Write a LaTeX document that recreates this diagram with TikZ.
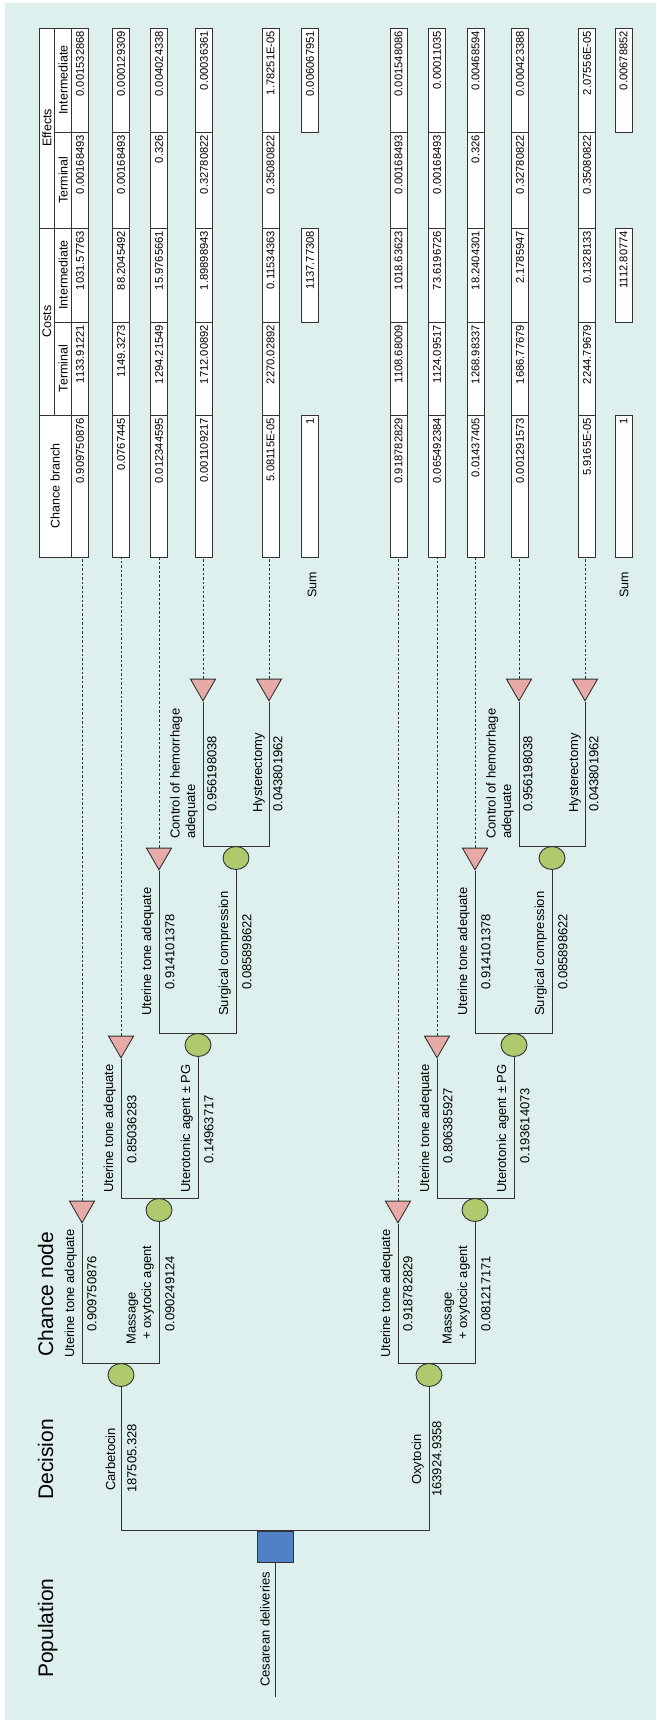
\documentclass[tikz,border=0pt]{standalone}
\usepackage{fontspec}
\setmainfont{Liberation Sans}
\usetikzlibrary{positioning,shapes.geometric}

\definecolor{panel}{HTML}{DDF0ED}
\definecolor{chancefill}{HTML}{AECA6C}
\definecolor{endfill}{HTML}{E8AAA6}
\definecolor{decfill}{HTML}{4F81C4}
\definecolor{ink}{HTML}{333333}

\tikzset{
  branch/.style={ink, line width=1pt},
  link/.style={ink, line width=0.8pt, dash pattern=on 2.5pt off 2pt},
  chance/.style={ellipse, draw=ink, line width=0.9pt, fill=chancefill,
    minimum width=26pt, minimum height=23pt, inner sep=0pt},
  terminal/.style={regular polygon, regular polygon sides=3,
    shape border rotate=180, draw=ink, line width=0.9pt, fill=endfill,
    minimum size=29pt, inner sep=0pt},
  decision/.style={rectangle, draw=ink, line width=0.9pt, fill=decfill,
    minimum width=36pt, minimum height=31pt, inner sep=0pt},
  optname/.style={rotate=90, anchor=south west, inner sep=0pt, align=left,
    font=\fontsize{13}{15.5}\selectfont},
  optprob/.style={rotate=90, anchor=north west, inner sep=0pt,
    font=\fontsize{13}{15.5}\selectfont},
  heading/.style={rotate=90, anchor=base west, inner sep=0pt,
    font=\fontsize{21}{25}\selectfont},
  sumlabel/.style={rotate=90, anchor=west, inner sep=0pt,
    font=\fontsize{12.5}{15}\selectfont},
  cell/.style={rotate=90, draw=ink, line width=0.9pt, fill=white,
    minimum height=17pt, inner xsep=3pt, inner ysep=0pt, align=right,
    font=\fontsize{11.2}{13}\selectfont},
  colA/.style={cell, minimum width=142pt, text width=136pt},
  colB/.style={cell, minimum width=93pt, text width=87pt},
  colC/.style={cell, minimum width=94pt, text width=88pt},
  colD/.style={cell, minimum width=96pt, text width=90pt},
  colE/.style={cell, minimum width=104pt, text width=98pt},
  head/.style={rotate=90, draw=ink, line width=0.9pt, fill=white,
    inner sep=0pt, font=\fontsize{12.5}{15}\selectfont}
}

\begin{document}
\begin{tikzpicture}[x=1pt, y=-1pt]
  \useasboundingbox (0,0) rectangle (656,1720);
  \fill[panel] (5,3) rectangle (656,1720);

  % column titles
  \node[heading] (hpop) at (53,1678) {Population};
  \node[heading] (hdec) at (53,1500) {Decision};
  \node[heading] (hcha) at (53,1357) {Chance node};

  % table header
  \node[head, minimum width=142pt, minimum height=32.5pt] (hbr) at (55.25,486) {Chance branch};
  \node[head, minimum width=187pt, minimum height=15.75pt] (hco) at (46.9,321.5) {Costs};
  \node[head, minimum width=200pt, minimum height=15.75pt] (hef) at (46.9,128) {Effects};
  \node[head, minimum width=93pt, minimum height=16.75pt] (hcot) at (63.1,368.5) {Terminal};
  \node[head, minimum width=94pt, minimum height=16.75pt] (hcoi) at (63.1,275) {Intermediate};
  \node[head, minimum width=96pt, minimum height=16.75pt] (heft) at (63.1,180) {Terminal};
  \node[head, minimum width=104pt, minimum height=16.75pt] (hefi) at (63.1,80) {Intermediate};

  % table rows
  \foreach \tr/\rw/\rx/\va/\vb/\vc/\vd/\ve in {
      a/1/80/0.909750876/1133.91221/1031.57763/0.00168493/0.001532868,
      a/2/121/0.0767445/1149.3273/88.2045492/0.00168493/0.000129309,
      a/3/159/0.012344595/1294.21549/15.9765661/0.326/0.004024338,
      a/4/204/0.001109217/1712.00892/1.89898943/0.32780822/0.00036361,
      a/5/270.5/5.08115E-05/2270.02892/0.11534363/0.35080822/1.78251E-05,
      b/1/398.5/0.918782829/1108.68009/1018.63623/0.00168493/0.001548086,
      b/2/437/0.065492384/1124.09517/73.6196726/0.00168493/0.00011035,
      b/3/475.5/0.01437405/1268.98337/18.2404301/0.326/0.00468594,
      b/4/520/0.001291573/1686.77679/2.1785947/0.32780822/0.000423388,
      b/5/587/5.9165E-05/2244.79679/0.1328133/0.35080822/2.07556E-05}{
    \node[colA] (row\tr\rw) at (\rx,486) {\va};
    \node[colB] (rowb\tr\rw) at (\rx,368.5) {\vb};
    \node[colC] (rowc\tr\rw) at (\rx,275) {\vc};
    \node[colD] (rowd\tr\rw) at (\rx,180) {\vd};
    \node[colE] (rowe\tr\rw) at (\rx,80) {\ve};
  }

  % sums
  \node[colA] (suma) at (310,486) {1};
  \node[colC] (sumca) at (310,275) {1137.77308};
  \node[colE] (sumea) at (310,80) {0.006067951};
  \node[sumlabel] (lsuma) at (312,598) {Sum};
  \node[colA] (sumb) at (623.5,486) {1};
  \node[colC] (sumcb) at (623.5,275) {1112.80774};
  \node[colE] (sumeb) at (623.5,80) {0.00678852};
  \node[sumlabel] (lsumb) at (624,598) {Sum};

  % decision
  \node[decision] (dec) at (275,1546.5) {};
  \coordinate (pop) at (275,1697);
  \draw[branch] (pop) -- (dec.south);
  \node[optname] (lpop) at (270,1687) {Cesarean deliveries};

  % the two strategies
  \foreach \tr/\dx/\cx/\pA/\pB/\pC/\pD in {
      a/0/121/0.909750876/0.090249124/0.85036283/0.14963717,
      b/316/113/0.918782829/0.081217171/0.806385927/0.193614073}{
    \begin{scope}[xshift=\dx pt]
      \node[chance] (ch\tr0) at (\cx,1375) {};
      \node[terminal] (tri\tr1) at (82,1208.3) {};
      \node[chance] (ch\tr1) at (159,1210) {};
      \node[terminal] (tri\tr2) at (121,1043.3) {};
      \node[chance] (ch\tr2) at (198,1045) {};
      \node[terminal] (tri\tr3) at (159,855.3) {};
      \node[chance] (ch\tr3) at (236,858) {};
      \node[terminal] (tri\tr4) at (203,686.3) {};
      \node[terminal] (tri\tr5) at (269,686.3) {};

      \draw[branch] (tri\tr1.corner 1) |- (ch\tr0.north) -| (ch\tr1.south);
      \draw[branch] (tri\tr2.corner 1) |- (ch\tr1.north) -| (ch\tr2.south);
      \draw[branch] (tri\tr3.corner 1) |- (ch\tr2.north) -| (ch\tr3.south);
      \draw[branch] (tri\tr4.corner 1) |- (ch\tr3.north) -| (tri\tr5.corner 1);

      \foreach \k in {1,...,5}
        \draw[link] (tri\tr\k.center |- tri\tr\k.corner 2) -- (tri\tr\k.center |- row\tr\k.west);

      \node[optname] (nm\tr1) at (77,1358) {Uterine tone adequate};
      \node[optprob] (pr\tr1) at (87,1332) {\pA};
      \node[optname] (nm\tr2) at (154,1345) {Massage\\\hspace*{5pt}+ oxytocic agent};
      \node[optprob] (pr\tr2) at (165,1332) {\pB};
      \node[optname] (nm\tr3) at (116,1193) {Uterine tone adequate};
      \node[optprob] (pr\tr3) at (127,1164) {\pC};
      \node[optname] (nm\tr4) at (193,1193) {Uterotonic agent ± PG};
      \node[optprob] (pr\tr4) at (204,1164) {\pD};
      \node[optname] (nm\tr5) at (154,1016) {Uterine tone adequate};
      \node[optprob] (pr\tr5) at (165,990) {0.914101378};
      \node[optname] (nm\tr6) at (231,1016) {Surgical compression};
      \node[optprob] (pr\tr6) at (242,990) {0.085898622};
      \node[optname] (nm\tr7) at (198,839) {Control of hemorrhage\\adequate};
      \node[optprob] (pr\tr7) at (207,812) {0.956198038};
      \node[optname] (nm\tr8) at (265,813) {Hysterectomy};
      \node[optprob] (pr\tr8) at (273,812) {0.043801962};
    \end{scope}
  }

  \draw[branch] (cha0.south) |- (dec.north) -| (chb0.south);
  \node[optname] (lcar) at (115.5,1491) {Carbetocin};
  \node[optprob] (pcar) at (127,1493) {187505.328};
  \node[optname] (loxy) at (424,1485) {Oxytocin};
  \node[optprob] (poxy) at (432,1497) {163924.9358};
\end{tikzpicture}
\end{document}
